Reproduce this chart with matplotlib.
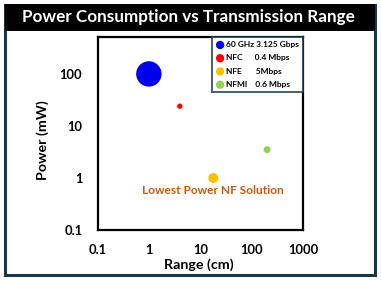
import matplotlib.pyplot as plt
from matplotlib.patches import Rectangle

# data
names = ['60 GHz 3.125 Gbps', 'NFC      0.4 Mbps', 'NFE       5Mbps', 'NFMI    0.6 Mbps']
range_cm = [1, 4, 18, 200]
power_mw = [100, 24, 1, 3.5]
bubble = [335, 15, 52, 25]
colors = ['#0000ee', '#ff0000', '#ffc000', '#92d050']
xticks = [0.1, 1, 10, 100, 1000]
yticks = [0.1, 1, 10, 100]

plt.rcParams['font.family'] = ['Lato', 'DejaVu Sans']
plt.rcParams['font.weight'] = 'bold'

W, H = 381, 281
fig = plt.figure(figsize=(W / 100, H / 100), dpi=100)

# outer frame and black title band (behind the axes)
frame = Rectangle((4.5 / W, 1 - 274.5 / H), 370 / W, 270 / H, transform=fig.transFigure,
                  facecolor='white', edgecolor='#17364a', linewidth=2.2, zorder=-2)
fig.patches.append(frame)
band = Rectangle((5 / W, 1 - 31 / H), 370 / W, 27 / H, transform=fig.transFigure,
                 facecolor='black', edgecolor='none', zorder=-1)
fig.patches.append(band)
fig.text(188.5 / W, 1 - 17 / H, 'Power Consumption vs Transmission Range', color='white',
         fontsize=12.3, fontweight='bold', ha='center', va='center')

ax = fig.add_axes([97.5 / W, 1 - 230 / H, 205.5 / W, 193 / H])
for i in range(len(names)):
    ax.scatter(range_cm[i], power_mw[i], s=bubble[i], color=colors[i], label=names[i],
               edgecolors='none', zorder=3)

ax.set_xscale('log')
ax.set_yscale('log')
ax.set_xlim(0.1, 1000)
ax.set_ylim(0.1, 10 ** 2.71)
ax.set_xticks(xticks)
ax.set_xticklabels(['0.1', '1', '10', '100', '1000'])
ax.set_yticks(yticks)
ax.set_yticklabels(['0.1', '1', '10', '100'])
ax.minorticks_off()
ax.tick_params(length=0, labelsize=9.3)
ax.tick_params(axis='x', pad=10)
ax.tick_params(axis='y', pad=11)
for sp in ax.spines.values():
    sp.set_linewidth(1.6)
    sp.set_color('black')

ax.text(18, 0.58, 'Lowest Power NF Solution', color='#c55a11', fontsize=8.6,
        fontweight='bold', ha='center', va='center')

leg = ax.legend(loc='upper right', fontsize=6, markerscale=1, frameon=True,
                fancybox=False, borderpad=0.45, handletextpad=0.15, labelspacing=0.75,
                borderaxespad=0.05, handlelength=1.1)
for h in leg.legend_handles:
    h.set_sizes([36])
leg.get_frame().set_edgecolor('#17364a')
leg.get_frame().set_linewidth(1.4)

fig.text(199 / W, 1 - 265 / H, 'Range (cm)', fontsize=10.3, fontweight='bold',
         ha='center', va='center')
fig.text(43 / W, 1 - 140 / H, 'Power (mW)', fontsize=10.3, fontweight='bold',
         ha='center', va='center', rotation=90)

fig.savefig('out.png', dpi=100)
